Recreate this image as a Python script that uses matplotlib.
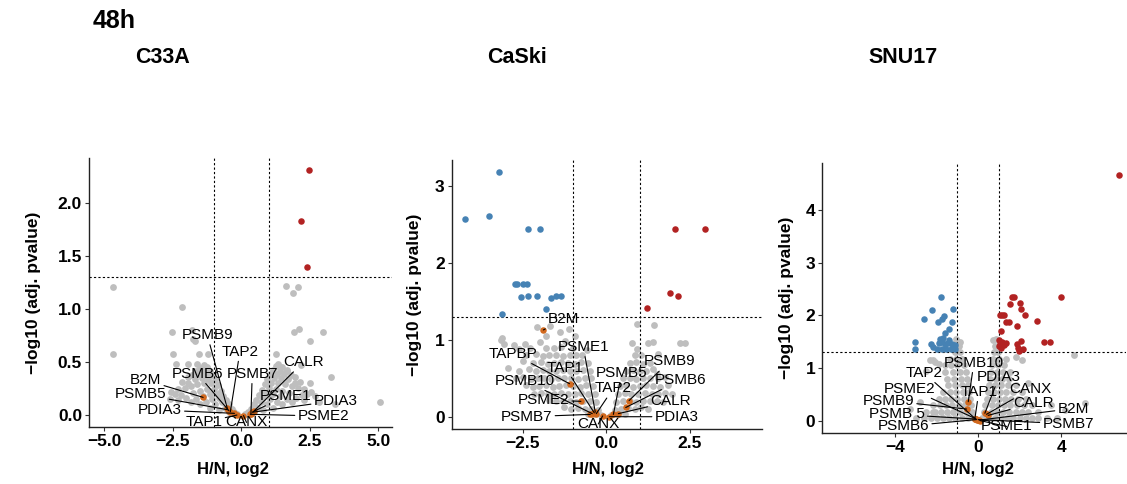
"""Volcano plots, 48h, three cell lines (C33A, CaSki, SNU17)."""

import numpy as np
import matplotlib
matplotlib.use("Agg")
import matplotlib.pyplot as plt

plt.rcParams['font.family'] = ['Liberation Sans', 'DejaVu Sans']

GRAY = '#BEBEBE'
RED = '#B22222'
BLUE = '#4682B4'
ORANGE = '#D2691E'

# ---------------- C33A ----------------
c33a_gray = [
    (-4.67, 1.21), (1.64, 1.22), (2.05, 1.21), (1.87, 1.15), (-2.17, 1.02), (-1.79, 0.80),
    (-2.54, 0.78), (1.91, 0.78), (2.12, 0.81), (2.97, 0.78), (2.50, 0.70), (-4.67, 0.58),
    (-2.48, 0.58), (-1.55, 0.58), (-1.20, 0.58), (1.26, 0.58), (-2.38, 0.48), (-1.96, 0.48),
    (-1.60, 0.48), (2.16, 0.47), (1.68, 0.42), (3.28, 0.36), (5.06, 0.12), (3.40, 0.10),
    (-1.75, 0.72), (-1.68, 0.70),
    (-0.15, 0.01), (-0.25, 0.03), (-0.35, 0.06), (-0.45, 0.10), (-0.55, 0.14), (-0.65, 0.18),
    (-0.75, 0.23), (-0.85, 0.28), (-0.95, 0.33), (-1.05, 0.38), (-1.15, 0.42), (-1.25, 0.45),
    (-1.35, 0.47), (-0.45, 0.03), (-0.60, 0.07), (-0.70, 0.12), (-0.80, 0.16), (-0.90, 0.20),
    (-1.00, 0.25), (-1.10, 0.30), (-1.20, 0.34), (-1.30, 0.38), (-1.40, 0.42), (-1.50, 0.44),
    (-0.80, 0.05), (-0.95, 0.10), (-1.05, 0.15), (-1.15, 0.20), (-1.25, 0.25), (-1.35, 0.30),
    (-1.45, 0.35), (-1.55, 0.39), (-1.65, 0.42), (-1.15, 0.07), (-1.30, 0.12), (-1.40, 0.18),
    (-1.50, 0.23), (-1.60, 0.29), (-1.70, 0.34), (-1.80, 0.38), (-1.95, 0.36), (-1.50, 0.10),
    (-1.65, 0.15), (-1.75, 0.21), (-1.85, 0.27), (-1.95, 0.30), (-2.05, 0.26), (-2.15, 0.31),
    (-2.30, 0.25), (-2.20, 0.19), (-2.40, 0.20), (-2.55, 0.22), (-2.00, 0.16), (-1.85, 0.12),
    (-2.30, 0.14), (-2.60, 0.15),
    (0.15, 0.01), (0.25, 0.03), (0.35, 0.06), (0.45, 0.10), (0.55, 0.14), (0.65, 0.19),
    (0.75, 0.24), (0.85, 0.29), (0.95, 0.34), (1.05, 0.39), (1.15, 0.43), (1.25, 0.46),
    (1.35, 0.48), (0.45, 0.03), (0.60, 0.07), (0.70, 0.12), (0.80, 0.16), (0.90, 0.21),
    (1.00, 0.26), (1.10, 0.30), (1.20, 0.35), (1.30, 0.39), (1.40, 0.42), (1.50, 0.45),
    (0.80, 0.05), (0.95, 0.10), (1.05, 0.15), (1.15, 0.20), (1.25, 0.25), (1.35, 0.30),
    (1.45, 0.35), (1.55, 0.39), (1.65, 0.43), (1.15, 0.07), (1.30, 0.12), (1.40, 0.18),
    (1.50, 0.23), (1.60, 0.29), (1.70, 0.34), (1.80, 0.38), (1.95, 0.36), (1.50, 0.10),
    (1.65, 0.15), (1.75, 0.21), (1.85, 0.27), (1.95, 0.30), (2.05, 0.26), (2.15, 0.31),
    (2.30, 0.25), (2.20, 0.19), (2.40, 0.20), (2.55, 0.22), (2.00, 0.16), (1.85, 0.12),
    (2.30, 0.14), (2.70, 0.18), (2.50, 0.30), (2.85, 0.12),
]
c33a_up_x = [2.45, 2.19, 2.41]
c33a_up_y = [2.32, 1.83, 1.40]
c33a_down_x = []
c33a_down_y = []
c33a_genes = ['B2M', 'PSMB5', 'PDIA3', 'PSMB6', 'PSMB9', 'TAP2', 'TAP1',
              'CANX', 'PSMB7', 'CALR', 'PSME1', 'PDIA3', 'PSME2']
c33a_gene_x = [-1.39, -0.50, -0.25, -0.45, -0.51, -0.40, -0.16, 0.08, 0.35, 0.47, 0.42, 0.40, 0.33]
c33a_gene_y = [0.167, 0.05, 0.016, 0.04, 0.063, 0.03, 0.0, -0.005, 0.007, 0.04, 0.03, 0.026, 0.007]
c33a_label_xy = [(-3.49, 0.33), (-3.67, 0.198), (-2.97, 0.047), (-1.60, 0.39), (-1.24, 0.756),
                 (-0.05, 0.60), (-1.36, -0.07), (0.19, -0.07), (0.40, 0.39), (2.26, 0.50),
                 (1.62, 0.18), (3.44, 0.135), (2.99, -0.01)]

# ---------------- CaSki ----------------
caski_gray = [
    (-3.12, 1.02), (-3.07, 0.95), (-2.77, 0.94), (-2.42, 0.95), (-2.27, 0.90), (-1.97, 0.97),
    (-1.57, 0.90), (-1.22, 0.98), (-2.06, 1.17), (-1.68, 1.18), (-1.38, 1.10), (-1.13, 1.14),
    (-0.73, 0.80), (-0.59, 0.87), (-2.95, 0.63), (-3.15, 1.00), (-1.80, 1.05), (-0.95, 1.05),
    (1.43, 1.19), (0.93, 1.21), (0.78, 0.96), (0.93, 0.88), (1.24, 0.96), (1.55, 0.82),
    (2.20, 0.96), (2.35, 0.96), (1.50, 0.56), (1.75, 0.52), (1.40, 0.97),
    (-0.15, 0.02), (-0.35, 0.03), (-0.55, 0.04),
    (-0.25, 0.09), (-0.45, 0.10), (-0.65, 0.10), (-0.85, 0.11), (-1.05, 0.10), (-1.25, 0.12),
    (-0.30, 0.19), (-0.50, 0.20), (-0.70, 0.21), (-0.90, 0.19), (-1.10, 0.20), (-1.30, 0.21),
    (-1.50, 0.20), (-1.70, 0.22),
    (-0.35, 0.30), (-0.55, 0.29), (-0.75, 0.31), (-0.95, 0.30), (-1.15, 0.29), (-1.35, 0.31),
    (-1.55, 0.30), (-1.75, 0.29), (-1.95, 0.31), (-2.15, 0.30),
    (-0.40, 0.40), (-0.60, 0.41), (-0.80, 0.39), (-1.00, 0.40), (-1.20, 0.41), (-1.40, 0.40),
    (-1.60, 0.39), (-1.80, 0.41), (-2.00, 0.40), (-2.20, 0.39), (-2.40, 0.41),
    (-0.45, 0.50), (-0.65, 0.51), (-0.85, 0.49), (-1.05, 0.50), (-1.25, 0.51), (-1.45, 0.50),
    (-1.65, 0.49), (-1.85, 0.51), (-2.05, 0.50), (-2.25, 0.49), (-2.50, 0.52), (-2.70, 0.50),
    (-0.50, 0.60), (-0.70, 0.61), (-0.90, 0.59), (-1.10, 0.60), (-1.30, 0.61), (-1.50, 0.60),
    (-1.70, 0.59), (-1.90, 0.61), (-2.10, 0.60), (-2.30, 0.62), (-2.60, 0.60),
    (-0.55, 0.70), (-0.75, 0.71), (-0.95, 0.69), (-1.15, 0.70), (-1.35, 0.71), (-1.55, 0.70),
    (-1.75, 0.69), (-1.95, 0.71), (-2.20, 0.70), (-2.50, 0.72),
    (-0.90, 0.80), (-1.10, 0.81), (-1.30, 0.79), (-1.50, 0.80), (-1.70, 0.81), (-1.90, 0.79),
    (-2.10, 0.82), (-2.40, 0.80), (-1.00, 0.90), (-1.35, 0.91), (-1.80, 0.89), (-2.60, 0.88),
    (0.15, 0.02), (0.35, 0.03), (0.55, 0.04),
    (0.25, 0.09), (0.45, 0.10), (0.65, 0.11), (0.85, 0.10), (1.05, 0.12), (1.25, 0.10),
    (0.30, 0.19), (0.50, 0.21), (0.70, 0.20), (0.90, 0.19), (1.10, 0.21), (1.30, 0.20),
    (1.50, 0.21), (1.70, 0.19),
    (0.35, 0.30), (0.55, 0.31), (0.75, 0.29), (0.95, 0.30), (1.15, 0.31), (1.35, 0.30),
    (1.55, 0.29), (1.75, 0.31), (1.95, 0.30),
    (0.40, 0.40), (0.60, 0.41), (0.80, 0.39), (1.00, 0.40), (1.20, 0.41), (1.40, 0.40),
    (1.60, 0.39), (1.85, 0.41),
    (0.50, 0.50), (0.70, 0.51), (0.90, 0.49), (1.10, 0.50), (1.30, 0.51), (1.55, 0.50),
    (0.60, 0.60), (0.80, 0.61), (1.00, 0.59), (1.20, 0.60), (1.40, 0.62),
    (0.70, 0.70), (0.90, 0.71), (1.10, 0.69), (1.30, 0.70), (0.85, 0.80), (1.05, 0.81),
]
caski_up_x = [2.06, 2.95, 1.90, 2.13, 1.21]
caski_up_y = [2.45, 2.45, 1.61, 1.57, 1.42]
caski_down_x = [-3.20, -4.21, -3.51, -2.35, -1.99, -2.73, -2.66, -2.49, -2.37, -2.55, -2.33,
                -2.07, -1.66, -1.51, -1.34, -1.81, -3.13]
caski_down_y = [3.18, 2.58, 2.61, 2.45, 2.45, 1.73, 1.73, 1.73, 1.73, 1.56, 1.57,
                1.57, 1.55, 1.57, 1.57, 1.40, 1.34]
caski_genes = ['B2M', 'TAPBP', 'PSMB10', 'TAP1', 'PSME1', 'PSME2', 'TAP2', 'PSMB7',
               'CANX', 'PSMB5', 'PSMB9', 'PSMB6', 'CALR', 'PDIA3']
caski_gene_x = [-1.88, -1.10, -0.42, -0.36, -0.33, -0.76, -0.30, -0.48, -0.11, 0.21, 0.68, 0.58, 0.36, 0.09]
caski_gene_y = [1.13, 0.43, 0.04, 0.05, 0.06, 0.20, 0.04, 0.03, 0.01, 0.03, 0.21, 0.12, 0.04, 0.0]
caski_label_xy = [(-1.28, 1.27), (-2.78, 0.82), (-2.43, 0.47), (-1.23, 0.64), (-0.69, 0.91),
                  (-1.88, 0.22), (0.21, 0.37), (-2.38, 0.0), (-0.24, -0.095), (0.46, 0.57),
                  (1.88, 0.72), (2.23, 0.48), (1.92, 0.20), (2.10, 0.0)]

# ---------------- SNU17 ----------------
snu17_gray = [
    (-0.20, 0.05), (-0.50, 0.05), (-0.80, 0.05), (-1.10, 0.05), (-1.40, 0.05), (-1.70, 0.05),
    (-2.00, 0.05), (-2.30, 0.05), (-2.60, 0.05), (-3.00, 0.05),
    (-0.30, 0.17), (-0.60, 0.17), (-0.90, 0.17), (-1.20, 0.17), (-1.50, 0.17), (-1.80, 0.17),
    (-2.10, 0.17), (-2.50, 0.17),
    (-0.35, 0.30), (-0.65, 0.30), (-0.95, 0.30), (-1.25, 0.30), (-1.55, 0.30), (-1.85, 0.30),
    (-2.20, 0.30), (-0.40, 0.42), (-0.70, 0.42), (-1.00, 0.42), (-1.30, 0.42), (-1.60, 0.42),
    (-1.90, 0.42), (-0.45, 0.55), (-0.75, 0.55), (-1.05, 0.55), (-1.35, 0.55), (-1.70, 0.55),
    (-0.50, 0.68), (-0.80, 0.68), (-1.10, 0.68), (-1.45, 0.68),
    (-0.55, 0.80), (-0.85, 0.80), (-1.15, 0.80), (-1.50, 0.80),
    (-0.60, 0.92), (-0.90, 0.92), (-1.20, 0.92), (-1.60, 0.92),
    (-0.70, 1.05), (-1.00, 1.05), (-1.30, 1.05), (-1.60, 1.05), (-1.90, 1.08),
    (-0.80, 1.17), (-1.05, 1.17), (-1.35, 1.17), (-2.20, 1.15), (-2.33, 1.15), (-2.10, 1.12),
    (-0.90, 1.30), (-1.10, 1.30), (-0.95, 1.42), (-1.15, 1.42), (-1.05, 1.55), (-0.88, 1.50),
    (-2.50, 0.95), (-2.17, 0.17), (-3.30, 0.22), (-2.80, 0.35),
    (0.20, 0.05), (0.50, 0.05), (0.80, 0.05), (1.10, 0.05), (1.40, 0.05), (1.70, 0.05),
    (2.00, 0.05), (2.30, 0.05), (2.60, 0.05), (2.90, 0.05), (3.30, 0.05), (3.80, 0.05),
    (0.30, 0.17), (0.60, 0.17), (0.90, 0.17), (1.20, 0.17), (1.50, 0.17), (1.80, 0.17),
    (2.10, 0.17), (2.40, 0.17), (2.90, 0.17),
    (0.35, 0.30), (0.65, 0.30), (0.95, 0.30), (1.25, 0.30), (1.55, 0.30), (1.85, 0.30),
    (2.20, 0.30), (2.60, 0.30),
    (0.40, 0.42), (0.70, 0.42), (1.00, 0.42), (1.30, 0.42), (1.60, 0.42), (1.90, 0.42),
    (2.30, 0.42), (0.45, 0.55), (0.75, 0.55), (1.05, 0.55), (1.35, 0.55), (1.70, 0.55),
    (2.10, 0.55), (0.50, 0.68), (0.80, 0.68), (1.10, 0.68), (1.45, 0.68), (1.80, 0.68),
    (0.55, 0.80), (0.85, 0.80), (1.15, 0.80), (1.50, 0.80),
    (0.60, 0.92), (0.90, 0.92), (1.20, 0.92), (1.55, 0.92),
    (0.65, 1.05), (0.95, 1.05), (1.25, 1.05), (0.70, 1.17), (1.00, 1.17), (1.35, 1.17),
    (0.75, 1.30), (0.95, 1.30), (0.80, 1.42), (1.00, 1.42), (0.85, 1.55), (0.72, 1.53),
    (1.80, 1.20), (2.11, 1.15), (4.61, 1.25), (2.40, 0.72), (5.14, 0.33), (3.50, 0.30),
    (4.20, 0.20),
]
snu17_up_x = [6.80, 1.65, 1.73, 3.99, 2.00, 1.53, 2.07, 2.27, 1.05, 1.14, 1.25, 1.32, 1.49, 1.85,
              2.84, 1.08, 2.04, 3.16, 3.48, 0.98, 1.05, 1.15, 1.25, 1.12, 1.35, 1.89, 1.93, 1.96,
              2.17, 1.00]
snu17_up_y = [4.67, 2.35, 2.35, 2.35, 2.23, 2.22, 2.12, 2.00, 2.01, 2.01, 2.01, 1.87, 1.87, 1.80,
              1.89, 1.70, 1.52, 1.49, 1.49, 1.53, 1.45, 1.49, 1.44, 1.38, 1.47, 1.45, 1.38, 1.32,
              1.37, 1.42]
snu17_down_x = [-1.81, -1.22, -2.22, -2.63, -1.67, -1.75, -1.96, -1.27, -1.62, -1.43, -3.04, -3.04,
                -2.28, -2.00, -1.77, -1.53, -1.29, -1.13, -1.90, -1.77, -1.61, -1.45, -1.24, -1.11,
                -1.85, -1.70, -1.40, -2.19]
snu17_down_y = [2.35, 2.12, 2.11, 1.93, 1.99, 1.94, 1.87, 1.87, 1.66, 1.74, 1.49, 1.36,
                1.46, 1.36, 1.36, 1.36, 1.36, 1.36, 1.47, 1.50, 1.45, 1.48, 1.45, 1.44,
                1.55, 1.57, 1.53, 1.40]
snu17_genes = ['PSMB10', 'TAP2', 'PSME2', 'PSMB9', 'PSMB 5', 'PSMB6', 'TAP1',
               'PDIA3', 'CANX', 'CALR', 'B2M', 'PSMB7', 'PSME1']
snu17_gene_x = [-0.48, -0.12, -0.14, -0.56, -0.10, -0.08, -0.16, 0.32, 0.40, 0.48, 0.05, 0.0, 0.10]
snu17_gene_y = [0.36, 0.03, 0.04, 0.22, 0.03, 0.02, 0.04, 0.14, 0.12, 0.10, 0.01, 0.02, 0.0]
snu17_label_xy = [(-0.21, 1.10), (-2.62, 0.91), (-3.29, 0.61), (-4.34, 0.38), (-3.93, 0.12),
                  (-3.61, -0.11), (0.03, 0.55), (1.0, 0.83), (2.52, 0.60), (2.65, 0.33),
                  (4.58, 0.23), (4.34, -0.06), (1.37, -0.11)]


def volcano(ax, gray, up_x, up_y, down_x, down_y, genes, gene_x, gene_y, label_xy,
            xlim, ylim, xticks, yticks, ylab_x, xlab_xy):
    g = np.array(gray)
    ax.scatter(g[:, 0], g[:, 1], s=24, c=GRAY, lw=0, zorder=1)
    # thresholds: |log2 FC| = 1, adj. p = 0.05
    dash = dict(color='black', lw=0.8, ls=(0, (2, 2)), zorder=1.5)
    ax.axhline(-np.log10(0.05), **dash)
    ax.axvline(-1, **dash)
    ax.axvline(1, **dash)
    if down_x:
        ax.scatter(down_x, down_y, s=22, c=BLUE, lw=0, zorder=2)
    ax.scatter(up_x, up_y, s=22, c=RED, lw=0, zorder=2)
    ax.scatter(gene_x, gene_y, s=22, c=ORANGE, lw=0, zorder=3)
    for name, px, py, (lx, ly) in zip(genes, gene_x, gene_y, label_xy):
        ax.annotate(name, xy=(px, py), xytext=(lx, ly), ha='center', va='center',
                    fontsize=11, annotation_clip=False, zorder=4,
                    arrowprops=dict(arrowstyle='-', lw=0.8, color='black',
                                    shrinkA=0, shrinkB=0))

    ax.set_xlim(*xlim)
    ax.set_ylim(*ylim)
    ax.set_xticks(xticks)
    ax.set_yticks(yticks)
    for side in ['top', 'right']:
        ax.spines[side].set_visible(False)
    for side in ['left', 'bottom']:
        ax.spines[side].set_color('#222222')
        ax.spines[side].set_linewidth(1.0)
    ax.tick_params(direction='out', length=3, width=0.8, color='#333333',
                   labelsize=12.5, pad=2, labelcolor='black')
    for lbl in ax.get_xticklabels() + ax.get_yticklabels():
        lbl.set_fontweight('bold')

    ax.set_xlabel('H/N, log2', fontsize=12, fontweight='bold')
    ax.set_ylabel('\u2212log10 (adj. pvalue)', fontsize=12.5, fontweight='bold')
    ax.xaxis.set_label_coords(*xlab_xy)
    ax.yaxis.set_label_coords(ylab_x, 0.5)


W, H = 1127, 484
fig = plt.figure(figsize=(W / 100, H / 100), dpi=100)

ax1 = fig.add_axes([0.079, 0.1178, 0.269, 0.556])
ax2 = fig.add_axes([0.4008, 0.113, 0.275, 0.556])
ax3 = fig.add_axes([0.7296, 0.1048, 0.2694, 0.559])

volcano(ax1, c33a_gray, c33a_up_x, c33a_up_y, c33a_down_x, c33a_down_y,
        c33a_genes, c33a_gene_x, c33a_gene_y, c33a_label_xy,
        (-5.55, 5.5), (-0.113, 2.43), [-5, -2.5, 0, 2.5, 5], [0, 0.5, 1, 1.5, 2],
        -0.16, (0.476, -0.13))
volcano(ax2, caski_gray, caski_up_x, caski_up_y, caski_down_x, caski_down_y,
        caski_genes, caski_gene_x, caski_gene_y, caski_label_xy,
        (-4.62, 4.64), (-0.164, 3.34), [-2.5, 0, 2.5], [0, 1, 2, 3],
        -0.095, (0.504, -0.12))
volcano(ax3, snu17_gray, snu17_up_x, snu17_up_y, snu17_down_x, snu17_down_y,
        snu17_genes, snu17_gene_x, snu17_gene_y, snu17_label_xy,
        (-7.52, 7.12), (-0.24, 4.9), [-4, 0, 4], [0, 1, 2, 3, 4],
        -0.092, (0.512, -0.105))

fig.text(93 / W, 1 - 28 / H, '48h', fontsize=18, fontweight='bold', va='baseline')
for name, px in [('C33A', 135), ('CaSki', 487), ('SNU17', 868)]:
    fig.text(px / W, 1 - 63 / H, name, fontsize=15.5, fontweight='bold', va='baseline')

fig.savefig('out.png', dpi=100)
plt.close(fig)
